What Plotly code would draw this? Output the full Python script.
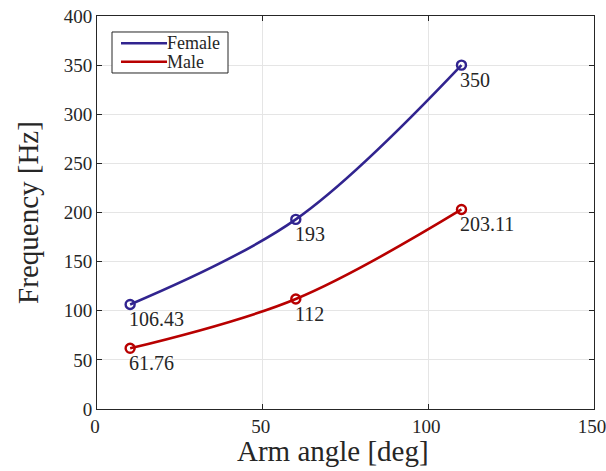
import plotly.graph_objects as go

arm_angle = [10, 60, 110]
female_hz = [106.43, 193, 350]
male_hz = [61.76, 112, 203.11]
female_labels = ["106.43", "193", "350"]
male_labels = ["61.76", "112", "203.11"]
series_names = ["Female", "Male"]
x_ticks = [0, 50, 100, 150]
y_ticks = [0, 50, 100, 150, 200, 250, 300, 350, 400]

FONT = "Liberation Serif"
TXT = "#262626"
C_F = "#31248f"
C_M = "#b80000"

fig = go.Figure()
for name, ys, col in [(series_names[0], female_hz, C_F), (series_names[1], male_hz, C_M)]:
    fig.add_trace(go.Scatter(
        x=arm_angle, y=ys, name=name, mode="lines", showlegend=False,
        line=dict(color=col, width=2.6, shape="spline", smoothing=1.0),
    ))
    fig.add_trace(go.Scatter(
        x=arm_angle, y=ys, name=name, mode="markers", showlegend=False,
        marker=dict(symbol="circle-open", size=9, color=col, line=dict(width=2.4, color=col)),
    ))

annotations = []
for ys, labs in [(female_hz, female_labels), (male_hz, male_labels)]:
    for xv, yv, t in zip(arm_angle, ys, labs):
        annotations.append(dict(
            x=xv, y=yv, xref="x", yref="y", text=t, showarrow=False,
            xanchor="left", yanchor="middle", xshift=-3, yshift=-15,
            font=dict(family=FONT, size=20, color=TXT),
        ))
annotations.append(dict(
    x=0.475, y=0, xref="paper", yref="paper", text="Arm angle [deg]",
    showarrow=False, xanchor="center", yanchor="top", yshift=-24,
    font=dict(family=FONT, size=29, color=TXT),
))

# MATLAB-style legend box (drawn in paper coordinates)
shapes = [dict(type="rect", xref="paper", yref="paper", x0=0.0302, x1=0.2636, y0=0.855, y1=0.9593,
               line=dict(color=TXT, width=1), fillcolor="white", layer="above")]
for name, col, ly in [(series_names[0], C_F, 0.9305), (series_names[1], C_M, 0.8837)]:
    shapes.append(dict(type="line", xref="paper", yref="paper", x0=0.0483, x1=0.1409, y0=ly, y1=ly,
                       line=dict(color=col, width=2.6), layer="above"))
    annotations.append(dict(x=0.1368, y=ly, xref="paper", yref="paper", text=name, showarrow=False,
                            xanchor="left", yanchor="middle",
                            font=dict(family=FONT, size=18, color=TXT)))

axis_common = dict(
    showline=True, linecolor=TXT, linewidth=1, mirror="ticks",
    ticks="inside", ticklen=5, tickcolor=TXT, tickwidth=1,
    showgrid=True, gridcolor="#e5e5e5", gridwidth=1, zeroline=False,
    tickfont=dict(family=FONT, size=19, color=TXT),
    ticklabeloverflow="allow",
)

fig.update_layout(
    width=606, height=471,
    margin=dict(l=97, r=12, t=16, b=62, autoexpand=False),
    paper_bgcolor="white", plot_bgcolor="white",
    showlegend=False,
    xaxis=dict(range=[0, 150], tickvals=x_ticks, ticklabelshift=-2, **axis_common),
    yaxis=dict(range=[0, 400], tickvals=y_ticks,
               title=dict(text="Frequency [Hz]", font=dict(family=FONT, size=29, color=TXT), standoff=16),
               **axis_common),
    annotations=annotations,
    shapes=shapes,
)

fig.write_html("out.html", config={"displayModeBar": False},
               post_script="document.body.style.margin='0px';document.body.style.overflow='hidden';")
